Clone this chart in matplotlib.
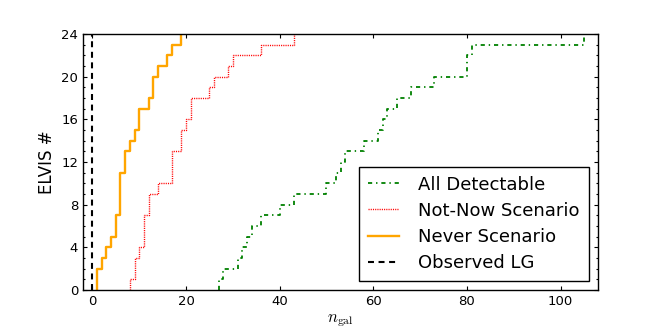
import numpy as np
import matplotlib
matplotlib.use("Agg")
import matplotlib.pyplot as plt
from matplotlib.ticker import MultipleLocator

# Sorted n_gal values per ELVIS host (24 hosts) for each scenario
all_detectable = [27, 28, 31, 32, 33, 34, 36, 40, 43, 50, 52, 53, 54, 58,
                  61, 62, 63, 65, 68, 73, 80, 80, 81, 105]
not_now = [8, 9, 9, 10, 11, 11, 11, 12, 12, 14, 17, 17, 17, 19, 19, 20,
           21, 21, 25, 26, 29, 30, 36, 43]
never = [1, 1, 2, 3, 4, 5, 5, 6, 6, 6, 6, 7, 7, 8, 9, 10, 10, 12, 13, 13,
         14, 16, 17, 19]
observed_lg = 0
n_hosts = 24

labels = ["All Detectable", "Not-Now Scenario", "Never Scenario", "Observed LG"]

plt.rcParams['font.family'] = ['DejaVu Sans']
plt.rcParams['mathtext.fontset'] = 'cm'
plt.rcParams['lines.scale_dashes'] = False

fig = plt.figure(figsize=(6.64, 3.32), dpi=100)
ax = fig.add_axes([83/664, 1 - 290/332, (598 - 83)/664, (290 - 34)/332])


def cdf_xy(vals):
    v = np.asarray(vals, dtype=float)
    x = np.concatenate([[v[0]], v])
    y = np.arange(0, len(v) + 1)
    return x, y


x, y = cdf_xy(all_detectable)
ax.plot(x, y, drawstyle='steps-post', color='green', lw=1.3,
        dashes=(3.0, 2.8, 1.0, 2.8), label=labels[0])
x, y = cdf_xy(not_now)
ax.plot(x, y, drawstyle='steps-post', color='red', lw=1.0,
        dashes=(0.8, 0.8), label=labels[1])
x, y = cdf_xy(never)
ax.plot(x, y, drawstyle='steps-post', color='orange', lw=1.7,
        label=labels[2])
ax.plot([observed_lg, observed_lg], [0, n_hosts], color='black', lw=1.5,
        dashes=(4.3, 3.3), label=labels[3])

ax.set_xlim(-2, 108)
ax.set_ylim(0, n_hosts)
ax.xaxis.set_major_locator(MultipleLocator(20))
ax.yaxis.set_major_locator(MultipleLocator(4))
ax.yaxis.set_minor_locator(MultipleLocator(1))
ax.tick_params(which='both', direction='in', top=True, right=True,
               labelsize=9.5, width=0.8)
ax.tick_params(which='major', length=3.0, pad=3.5)
ax.tick_params(which='minor', length=1.6)
for sp in ax.spines.values():
    sp.set_linewidth(1.0)
    sp.set_color('black')

ax.set_xlabel(r'$n_{\rm gal}$', fontsize=12, labelpad=2)
ax.set_ylabel('ELVIS #', fontsize=12, labelpad=4)

leg = ax.legend(loc='lower right', fontsize=13, fancybox=False,
                edgecolor='black', framealpha=1, handlelength=1.7,
                handletextpad=1.1, labelspacing=0.45, borderpad=0.5,
                borderaxespad=0.5)
leg.get_frame().set_linewidth(1.0)

fig.savefig('out.png', dpi=100)
